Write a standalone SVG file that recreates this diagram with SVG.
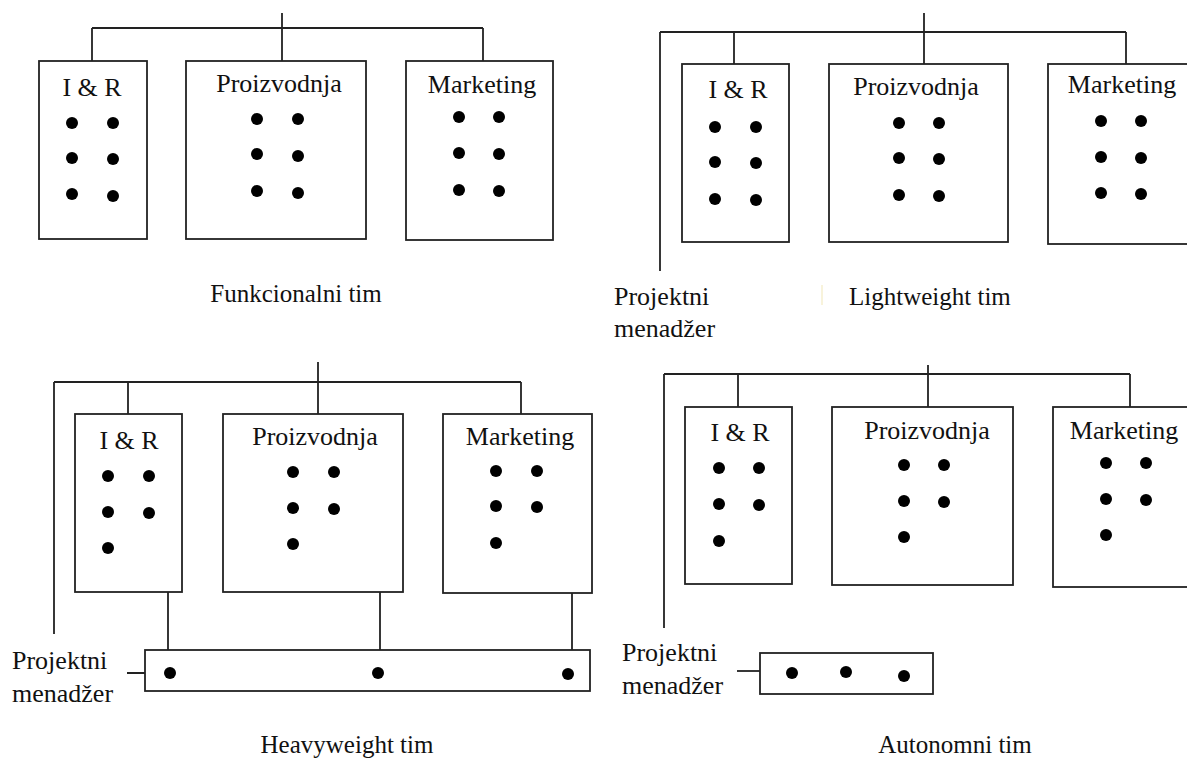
<svg xmlns="http://www.w3.org/2000/svg" width="1187" height="759" viewBox="0 0 1187 759">
  <style>
    .box { fill: #fff; stroke: #222; stroke-width: 1.8; }
    .ln { fill: none; stroke: #222; stroke-width: 1.8; }
    .dot { fill: #000; }
    text { font-family: 'Liberation Serif', 'Times New Roman', Tinos, Times, 'Nimbus Roman', 'DejaVu Serif', serif; fill: #111; }
    .t { font-size: 26px; }
    .c { font-size: 25px; }
    .mid { text-anchor: middle; }
  </style>
  <rect width="1187" height="759" fill="#fff"/>

  <!-- Connectors -->
  <g id="connectors" class="ln">
    <!-- Functional team -->
    <path d="M282 13 V61 M92 28 H483 M92 28 V61 M483 28 V61"/>
    <!-- Lightweight team -->
    <path d="M924 13 V64 M660 32 H1126 M660 32 V271 M734 32 V64 M1126 32 V64"/>
    <!-- Heavyweight team -->
    <path d="M318 362 V414 M54 382 H521 M54 382 V634 M128 382 V414 M521 382 V414"/>
    <path d="M168 592 V650 M380 592 V650 M572 593 V650 M127 673 H145"/>
    <!-- Autonomous team -->
    <path d="M928 365 V407 M664 374 H1130 M664 374 V628 M738 374 V407 M1130 374 V407"/>
    <path d="M737 671 H760"/>
  </g>

  <!-- Functional team -->
  <g id="f-ir">
    <rect class="box" x="39" y="61" width="108" height="178"/>
    <text class="t mid" x="92" y="96">I &amp; R</text>
    <circle class="dot" cx="72" cy="123" r="6"/><circle class="dot" cx="113" cy="123" r="6"/>
    <circle class="dot" cx="72" cy="158" r="6"/><circle class="dot" cx="113" cy="159" r="6"/>
    <circle class="dot" cx="72" cy="194" r="6"/><circle class="dot" cx="113" cy="196" r="6"/>
  </g>
  <g id="f-proizvodnja">
    <rect class="box" x="186" y="61" width="180" height="178"/>
    <text class="t mid" x="279" y="92">Proizvodnja</text>
    <circle class="dot" cx="257" cy="119" r="6"/><circle class="dot" cx="298" cy="119" r="6"/>
    <circle class="dot" cx="257" cy="154" r="6"/><circle class="dot" cx="298" cy="156" r="6"/>
    <circle class="dot" cx="257" cy="191" r="6"/><circle class="dot" cx="298" cy="193" r="6"/>
  </g>
  <g id="f-marketing">
    <rect class="box" x="406" y="61" width="147" height="179"/>
    <text class="t mid" x="482" y="93">Marketing</text>
    <circle class="dot" cx="459" cy="117" r="6"/><circle class="dot" cx="499" cy="117" r="6"/>
    <circle class="dot" cx="459" cy="153" r="6"/><circle class="dot" cx="499" cy="154" r="6"/>
    <circle class="dot" cx="459" cy="190" r="6"/><circle class="dot" cx="499" cy="191" r="6"/>
  </g>
  <text class="c mid" x="296" y="302">Funkcionalni tim</text>

  <!-- Lightweight team -->
  <g id="l-ir">
    <rect class="box" x="682" y="64" width="107" height="178"/>
    <text class="t mid" x="738" y="98">I &amp; R</text>
    <circle class="dot" cx="715" cy="127" r="6"/><circle class="dot" cx="756" cy="127" r="6"/>
    <circle class="dot" cx="715" cy="162" r="6"/><circle class="dot" cx="756" cy="163" r="6"/>
    <circle class="dot" cx="715" cy="199" r="6"/><circle class="dot" cx="756" cy="200" r="6"/>
  </g>
  <g id="l-proizvodnja">
    <rect class="box" x="829" y="64" width="179" height="178"/>
    <text class="t mid" x="916" y="95">Proizvodnja</text>
    <circle class="dot" cx="899" cy="123" r="6"/><circle class="dot" cx="939" cy="123" r="6"/>
    <circle class="dot" cx="899" cy="158" r="6"/><circle class="dot" cx="939" cy="159" r="6"/>
    <circle class="dot" cx="899" cy="195" r="6"/><circle class="dot" cx="939" cy="196" r="6"/>
  </g>
  <g id="l-marketing">
    <rect class="box" x="1048" y="64" width="150" height="180"/>
    <text class="t mid" x="1122" y="93">Marketing</text>
    <circle class="dot" cx="1101" cy="121" r="6"/><circle class="dot" cx="1141" cy="121" r="6"/>
    <circle class="dot" cx="1101" cy="157" r="6"/><circle class="dot" cx="1141" cy="158" r="6"/>
    <circle class="dot" cx="1101" cy="193" r="6"/><circle class="dot" cx="1141" cy="194" r="6"/>
  </g>
  <g id="l-manager">
    <text class="t" x="614" y="305">Projektni</text>
    <text class="t" x="614" y="337">menadžer</text>
  </g>
  <line x1="822" y1="285" x2="822" y2="305" stroke="#f6efcf" stroke-width="1.5"/>
  <text class="c" x="849" y="305">Lightweight tim</text>

  <!-- Heavyweight team -->
  <g id="h-ir">
    <rect class="box" x="75" y="414" width="107" height="178"/>
    <text class="t mid" x="129" y="449">I &amp; R</text>
    <circle class="dot" cx="108" cy="476" r="6"/><circle class="dot" cx="149" cy="476" r="6"/>
    <circle class="dot" cx="108" cy="512" r="6"/><circle class="dot" cx="149" cy="513" r="6"/>
    <circle class="dot" cx="108" cy="548" r="6"/>
  </g>
  <g id="h-proizvodnja">
    <rect class="box" x="223" y="414" width="180" height="178"/>
    <text class="t mid" x="315" y="445">Proizvodnja</text>
    <circle class="dot" cx="293" cy="472" r="6"/><circle class="dot" cx="334" cy="472" r="6"/>
    <circle class="dot" cx="293" cy="508" r="6"/><circle class="dot" cx="334" cy="509" r="6"/>
    <circle class="dot" cx="293" cy="544" r="6"/>
  </g>
  <g id="h-marketing">
    <rect class="box" x="443" y="414" width="149" height="179"/>
    <text class="t mid" x="520" y="445">Marketing</text>
    <circle class="dot" cx="496" cy="471" r="6"/><circle class="dot" cx="537" cy="471" r="6"/>
    <circle class="dot" cx="496" cy="506" r="6"/><circle class="dot" cx="537" cy="507" r="6"/>
    <circle class="dot" cx="496" cy="543" r="6"/>
  </g>
  <g id="h-team">
    <rect class="box" x="145" y="650" width="445" height="41"/>
    <circle class="dot" cx="170" cy="673" r="6"/>
    <circle class="dot" cx="378" cy="673" r="6"/>
    <circle class="dot" cx="568" cy="674" r="6"/>
  </g>
  <g id="h-manager">
    <text class="t" x="12" y="669">Projektni</text>
    <text class="t" x="12" y="702">menadžer</text>
  </g>
  <text class="c mid" x="347" y="753">Heavyweight tim</text>

  <!-- Autonomous team -->
  <g id="a-ir">
    <rect class="box" x="685" y="407" width="107" height="177"/>
    <text class="t mid" x="740" y="441">I &amp; R</text>
    <circle class="dot" cx="719" cy="468" r="6"/><circle class="dot" cx="759" cy="468" r="6"/>
    <circle class="dot" cx="719" cy="504" r="6"/><circle class="dot" cx="759" cy="505" r="6"/>
    <circle class="dot" cx="719" cy="541" r="6"/>
  </g>
  <g id="a-proizvodnja">
    <rect class="box" x="832" y="407" width="181" height="178"/>
    <text class="t mid" x="927" y="439">Proizvodnja</text>
    <circle class="dot" cx="904" cy="465" r="6"/><circle class="dot" cx="944" cy="465" r="6"/>
    <circle class="dot" cx="904" cy="501" r="6"/><circle class="dot" cx="944" cy="502" r="6"/>
    <circle class="dot" cx="904" cy="537" r="6"/>
  </g>
  <g id="a-marketing">
    <rect class="box" x="1053" y="407" width="145" height="180"/>
    <text class="t mid" x="1124" y="439">Marketing</text>
    <circle class="dot" cx="1106" cy="463" r="6"/><circle class="dot" cx="1146" cy="463" r="6"/>
    <circle class="dot" cx="1106" cy="499" r="6"/><circle class="dot" cx="1146" cy="500" r="6"/>
    <circle class="dot" cx="1106" cy="535" r="6"/>
  </g>
  <g id="a-team">
    <rect class="box" x="760" y="653" width="173" height="41"/>
    <circle class="dot" cx="792" cy="673" r="6"/>
    <circle class="dot" cx="846" cy="672" r="6"/>
    <circle class="dot" cx="904" cy="676" r="6"/>
  </g>
  <g id="a-manager">
    <text class="t" x="622" y="661">Projektni</text>
    <text class="t" x="622" y="694">menadžer</text>
  </g>
  <text class="c mid" x="955" y="753">Autonomni tim</text>
</svg>
